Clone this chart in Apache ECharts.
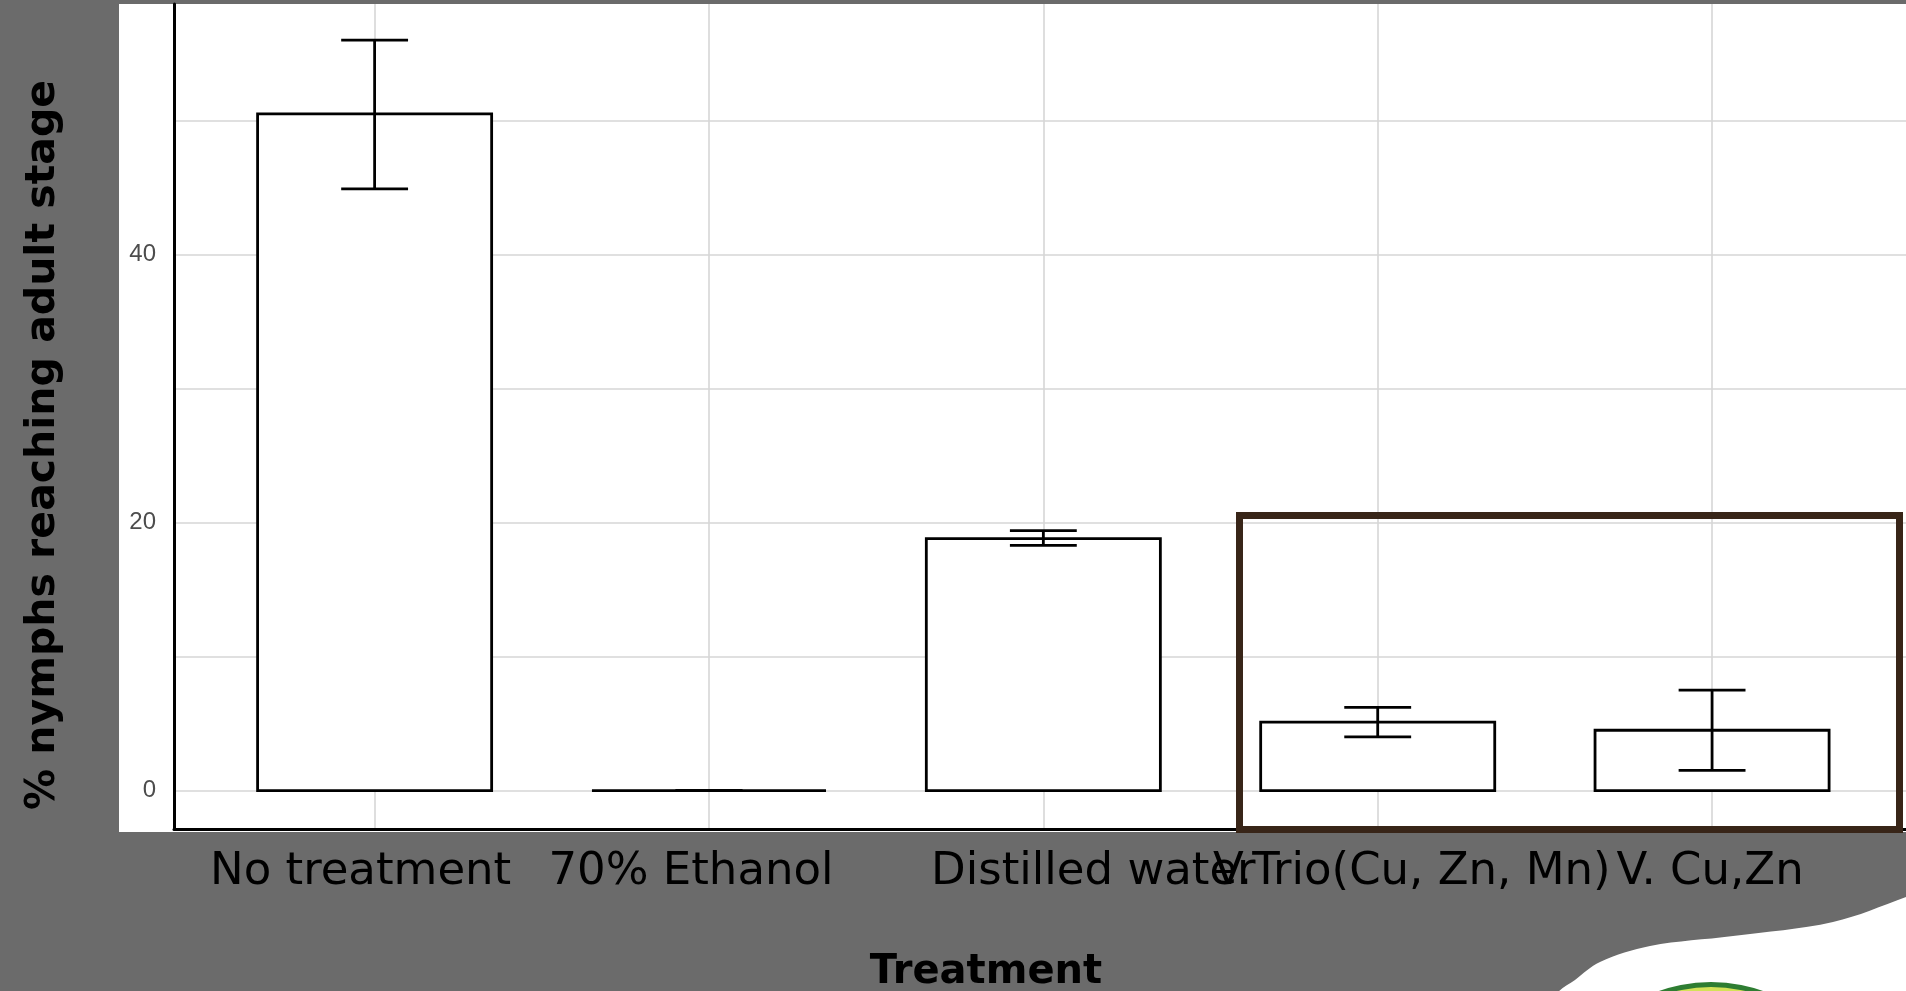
<!DOCTYPE html>
<html>
<head>
<meta charset="utf-8">
<style>
  html, body { margin: 0; padding: 0; background: #6b6b6b; }
  #chart { width: 1906px; height: 991px; }
</style>
<script src="https://cdn.jsdelivr.net/npm/echarts@6/dist/echarts.min.js"></script>
</head>
<body>
<div id="chart"></div>
<script>
// Treatments and mean % of nymphs reaching the adult stage, with error-bar limits
const categories = ['No treatment', '70% Ethanol', 'Distilled water', 'V.Trio(Cu, Zn, Mn)', 'V. Cu,Zn'];
const meanPct = [50.5, 0, 18.8, 5.1, 4.5];
const errLower = [44.9, 0, 18.3, 4.0, 1.5];
const errUpper = [56.0, 0, 19.4, 6.2, 7.5];
const yLabelTicks = [0, 20, 40];
const yGridTicks = [0, 10, 20, 30, 40, 50];

// horizontal nudges (px) of the category captions as typeset on the slide
const captionShift = [-14, -18, 50, 34, -2];

const BAR_HALF = 0.35;   // bar width 0.7 of a category step
const CAP_HALF = 0.1;    // error-bar cap width 0.2 of a category step
const CAPTION_FONT = 'DejaVu Sans';

const positions = categories.map((_, i) => i + 1);
const barData = positions.map((x, i) => [x, meanPct[i]]);
const errData = positions.map((x, i) => [x, errLower[i], errUpper[i]]);

const rich = {};
captionShift.forEach((d, i) => {
  rich['c' + i] = {
    fontFamily: CAPTION_FONT,
    fontSize: 45,
    color: '#000',
    padding: d >= 0 ? [0, 0, 0, 2 * d] : [0, -2 * d, 0, 0]
  };
});

const chart = echarts.init(document.getElementById('chart'), null, { renderer: 'canvas' });

const option = {
  backgroundColor: '#6b6b6b',
  animation: false,
  grid: { left: 174, right: 0, top: 4, bottom: 162, containLabel: false, outerBoundsMode: 'none' },
  xAxis: {
    type: 'value',
    min: 0.4,
    max: 5.58,
    axisLine: { show: true, onZero: false, lineStyle: { color: '#000', width: 3 } },
    axisTick: { show: false, customValues: positions },
    axisLabel: {
      customValues: positions,
      margin: 21,
      rich: rich,
      formatter: function (v) {
        const i = Math.round(v) - 1;
        return '{c' + i + '|' + categories[i] + '}';
      }
    },
    splitLine: { show: true, lineStyle: { color: '#d6d6d6', width: 1.6 } },
    name: 'Treatment',
    nameLocation: 'middle',
    nameGap: 124,
    nameTextStyle: {
      fontFamily: CAPTION_FONT, fontWeight: 'bold', fontSize: 40, color: '#000',
      padding: [0, 108, 0, 0]
    }
  },
  yAxis: {
    type: 'value',
    min: -2.87,
    max: 58.7,
    axisLine: { show: true, onZero: false, lineStyle: { color: '#000', width: 3 } },
    axisTick: { show: false, customValues: yGridTicks },
    axisLabel: {
      customValues: yLabelTicks,
      margin: 18,
      fontFamily: 'Liberation Sans',
      fontSize: 24,
      color: '#4d4d4d'
    },
    splitLine: { show: true, lineStyle: { color: '#d6d6d6', width: 1.6 } },
    name: '% nymphs reaching adult stage',
    nameLocation: 'middle',
    nameRotate: 90,
    nameGap: 110,
    nameTextStyle: {
      fontFamily: CAPTION_FONT, fontWeight: 'bold', fontSize: 41, color: '#000',
      padding: [0, 57, 0, 0]
    }
  },
  series: [
    {
      type: 'custom',
      name: 'mean',
      data: barData,
      encode: { x: 0, y: 1 },
      z: 3,
      renderItem: function (params, api) {
        const x = api.value(0);
        const v = api.value(1);
        const tl = api.coord([x - BAR_HALF, v]);
        const br = api.coord([x + BAR_HALF, 0]);
        return {
          type: 'rect',
          shape: { x: tl[0], y: tl[1], width: br[0] - tl[0], height: br[1] - tl[1] },
          style: { fill: '#ffffff', stroke: '#000000', lineWidth: 2.8 }
        };
      }
    },
    {
      type: 'custom',
      name: 'error',
      data: errData,
      encode: { x: 0, y: [1, 2] },
      z: 4,
      renderItem: function (params, api) {
        const x = api.value(0);
        const lo = api.coord([x, api.value(1)]);
        const hi = api.coord([x, api.value(2)]);
        const half = api.size([CAP_HALF, 0])[0];
        const st = { stroke: '#000000', lineWidth: 2.8 };
        return {
          type: 'group',
          children: [
            { type: 'line', shape: { x1: hi[0], y1: hi[1], x2: lo[0], y2: lo[1] }, style: st },
            { type: 'line', shape: { x1: hi[0] - half, y1: hi[1], x2: hi[0] + half, y2: hi[1] }, style: st },
            { type: 'line', shape: { x1: lo[0] - half, y1: lo[1], x2: lo[0] + half, y2: lo[1] }, style: st }
          ]
        };
      }
    }
  ],
  graphic: [
    // white plot panel pasted on the slide
    { type: 'rect', z: -10, shape: { x: 119, y: 4, width: 1787, height: 828 }, style: { fill: '#ffffff' } },
    // highlight frame around the two V. treatments
    { type: 'rect', z: 100, shape: { x: 1239.5, y: 515.5, width: 660, height: 314 },
      style: { fill: 'none', stroke: '#382518', lineWidth: 7 } },
    // slide decoration, bottom right
    { type: 'polygon', z: 50, shape: {
        smooth: 0.35,
        points: [[1990, 866], [1906, 897], [1833, 922], [1733, 936], [1650, 946], [1600, 962],
                 [1575, 980], [1556, 995], [1540, 1040], [1990, 1040]]
      }, style: { fill: '#ffffff' } },
    { type: 'circle', z: 51, shape: { cx: 1711, cy: 1137, r: 155 }, style: { fill: '#2e7d32' } },
    { type: 'circle', z: 52, shape: { cx: 1711, cy: 1137, r: 150 }, style: { fill: '#d4e157' } },
    { type: 'circle', z: 53, shape: { cx: 1711, cy: 1137, r: 144 }, style: { fill: '#7cb342' } }
  ]
};

chart.setOption(option);
</script>
</body>
</html>
